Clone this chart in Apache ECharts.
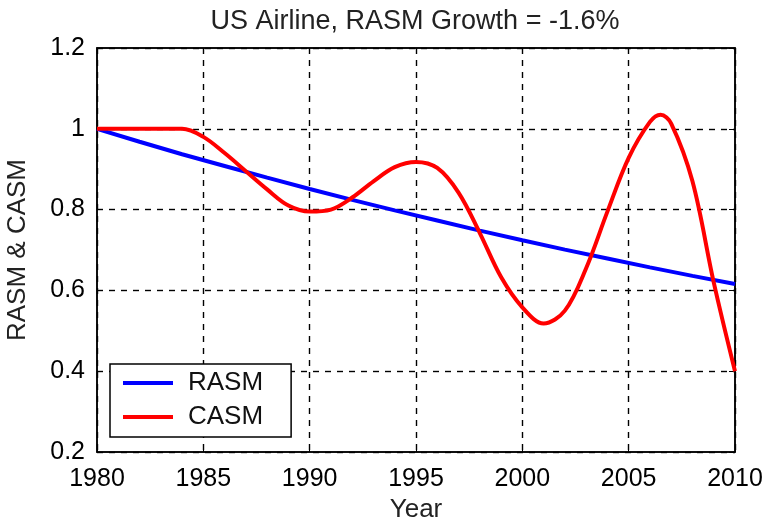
<!DOCTYPE html>
<html>
<head>
<meta charset="utf-8">
<script src="https://cdn.jsdelivr.net/npm/echarts@6/dist/echarts.min.js"></script>
<style>
html, body { margin: 0; padding: 0; background: #fff; }
#chart { width: 767px; height: 523px; }
</style>
</head>
<body>
<div id="chart"></div>
<script>
// 数据
var rasmYears = [1980, 1982, 1984, 1986, 1988, 1990, 1992, 1994, 1996, 1998, 2000, 2002, 2004, 2006, 2008, 2010];
var rasmValues = [1.000, 0.968, 0.937, 0.908, 0.879, 0.851, 0.824, 0.798, 0.773, 0.748, 0.724, 0.701, 0.679, 0.657, 0.636, 0.616];

var casmYears = [1980, 1982, 1984, 1985, 1986, 1987, 1988, 1989, 1990, 1991, 1992, 1993, 1994, 1995, 1996, 1997, 1998, 1999, 2000, 2001, 2002, 2003, 2004, 2005, 2006, 2006.5, 2007, 2008, 2009, 2010];
var casmValues = [1.0, 1.0, 1.0, 0.98, 0.94, 0.895, 0.85, 0.81, 0.795, 0.80, 0.83, 0.87, 0.905, 0.918, 0.903, 0.842, 0.742, 0.633, 0.558, 0.518, 0.55, 0.655, 0.795, 0.928, 1.017, 1.035, 1.013, 0.87, 0.62, 0.40];

var xTicks = [1980, 2010, 5];
var yTicks = [0.2, 1.2, 0.2];

function pairs(xs, ys) {
	return xs.map(function (x, i) { return [x, ys[i]]; });
}

var chart = echarts.init(document.getElementById('chart'));

var fontFam = 'Liberation Sans, Arial, sans-serif';

var option = {
	backgroundColor: '#fff',
	animation: false,
	title: {
		text: 'US Airline, RASM Growth = -1.6%',
		left: 410,
		textAlign: 'center',
		top: 3,
		textStyle: {
			color: '#222',
			fontSize: 27,
			fontWeight: 'normal',
			fontFamily: fontFam
		}
	},
	grid: {
		left: 97,
		right: 32,
		top: 48,
		bottom: 71,
		outerBoundsMode: 'none',
		show: true,
		borderColor: '#000',
		borderWidth: 1.5
	},
	legend: {
		orient: 'vertical',
		left: 110,
		top: 364,
		itemWidth: 50,
		itemHeight: 4,
		itemGap: 8,
		padding: [6, 28, 7, 13],
		borderColor: '#000',
		borderWidth: 1.5,
		backgroundColor: '#fff',
		icon: 'rect',
		textStyle: {
			color: '#111',
			fontSize: 26,
			fontFamily: fontFam,
			padding: [0, 0, 0, 10]
		},
		data: ['RASM', 'CASM']
	},
	xAxis: [{
		type: 'value',
		min: xTicks[0],
		max: xTicks[1],
		interval: xTicks[2],
		name: 'Year',
		nameLocation: 'middle',
		nameGap: 43,
		nameTextStyle: { color: '#222', fontSize: 26, fontFamily: fontFam },
		axisLine: { show: true, lineStyle: { color: '#000', width: 1.5 } },
		axisTick: { show: true, inside: true, length: 6, lineStyle: { color: '#000' } },
		axisLabel: {
			color: '#000',
			fontSize: 25,
			fontFamily: fontFam,
			margin: 15,
			formatter: function (v) { return String(v); }
		},
		splitLine: { show: true, lineStyle: { color: '#000', type: [6, 6], width: 1.4 } }
	}, {
		type: 'value',
		position: 'top',
		min: xTicks[0],
		max: xTicks[1],
		interval: xTicks[2],
		axisLine: { show: true, lineStyle: { color: '#000', width: 1.5 } },
		axisTick: { show: true, inside: true, length: 6, lineStyle: { color: '#000' } },
		axisLabel: { show: false },
		splitLine: { show: false }
	}],
	yAxis: [{
		type: 'value',
		min: yTicks[0],
		max: yTicks[1],
		interval: yTicks[2],
		name: 'RASM & CASM',
		nameLocation: 'middle',
		nameGap: 66,
		nameTextStyle: { color: '#222', fontSize: 26, fontFamily: fontFam },
		axisLine: { show: true, lineStyle: { color: '#000', width: 1.5 } },
		axisTick: { show: true, inside: true, length: 6, lineStyle: { color: '#000' } },
		axisLabel: {
			color: '#000',
			fontSize: 25,
			fontFamily: fontFam,
			margin: 12,
			formatter: function (v) { return v === 1 ? '1' : v.toFixed(1); }
		},
		splitLine: { show: true, lineStyle: { color: '#000', type: [6, 6], width: 1.4 } }
	}, {
		type: 'value',
		position: 'right',
		min: yTicks[0],
		max: yTicks[1],
		interval: yTicks[2],
		axisLine: { show: true, lineStyle: { color: '#000', width: 1.5 } },
		axisTick: { show: true, inside: true, length: 6, lineStyle: { color: '#000' } },
		axisLabel: { show: false },
		splitLine: { show: false }
	}],
	series: [{
		name: 'RASM',
		type: 'line',
		showSymbol: false,
		color: '#0000ff',
		lineStyle: { width: 4, color: '#0000ff' },
		data: pairs(rasmYears, rasmValues)
	}, {
		name: 'CASM',
		type: 'line',
		showSymbol: false,
		smooth: 0.35,
		color: '#ff0000',
		lineStyle: { width: 4, color: '#ff0000' },
		data: pairs(casmYears, casmValues)
	}]
};

chart.setOption(option);
</script>
</body>
</html>
